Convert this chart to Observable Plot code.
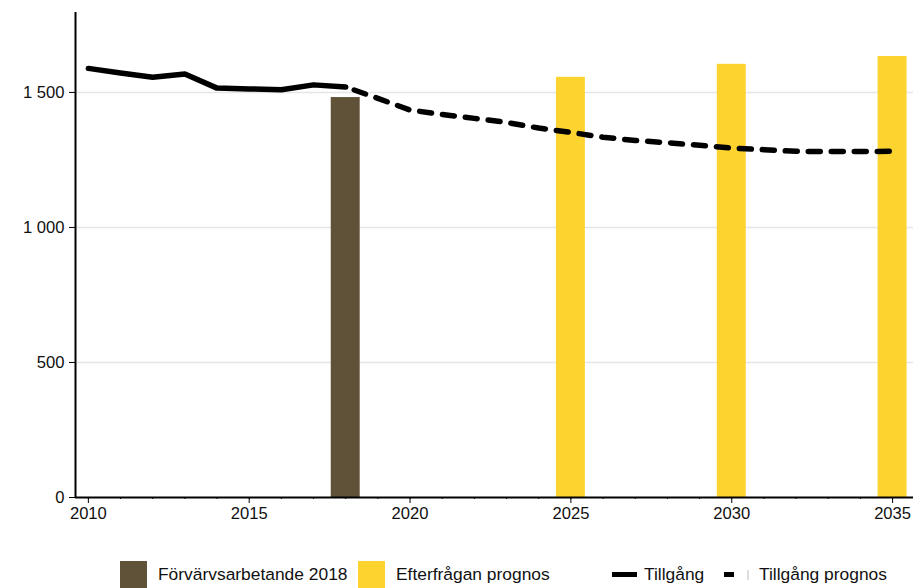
<!DOCTYPE html>
<html>
<head>
<meta charset="utf-8">
<script src="https://cdn.jsdelivr.net/npm/d3@7"></script>
<script src="https://cdn.jsdelivr.net/npm/@observablehq/plot@0.6"></script>
<style>
  html, body { margin: 0; padding: 0; background: #fff; }
  body { width: 913px; height: 588px; overflow: hidden; font-family: "Liberation Sans", Arial, sans-serif; }
  #wrap { position: relative; width: 913px; height: 588px; }
  #legend { position: absolute; left: 0; top: 561px; width: 913px; height: 27px; font-size: 17.4px; color: #111; }
  .item { position: absolute; top: 0; height: 27px; display: flex; align-items: center; }
  .sw { display: inline-block; }
</style>
</head>
<body>
<div id="wrap">
  <div id="chart"></div>
  <div id="legend"></div>
</div>
<script>
// ---- data ----
const historyYears  = [2010, 2011, 2012, 2013, 2014, 2015, 2016, 2017, 2018];
const historyValues = [1589, 1572, 1556, 1568, 1516, 1513, 1510, 1528, 1520];

const forecastYears  = [2018, 2019, 2020, 2021, 2022, 2023, 2024, 2025, 2026, 2027, 2028, 2029, 2030, 2031, 2032, 2033, 2034, 2035];
const forecastValues = [1520, 1478, 1435, 1418, 1404, 1389, 1368, 1352, 1334, 1322, 1314, 1304, 1294, 1288, 1282, 1281, 1281, 1282];

const employedYears  = [2018];
const employedValues = [1481];

const demandYears  = [2025, 2030, 2035];
const demandValues = [1556, 1604, 1633];

const yTicks = [0, 500, 1000, 1500];
const xTicks = [2010, 2015, 2020, 2025, 2030, 2035];
const xMinor = d3.range(2010, 2036);

const legendLabels = ["Förvärvsarbetande 2018", "Efterfrågan prognos", "Tillgång", "Tillgång prognos"];

// ---- tables ----
const history  = historyYears.map((y, i) => ({year: y, value: historyValues[i]}));
const forecast = forecastYears.map((y, i) => ({year: y, value: forecastValues[i]}));
const employed = employedYears.map((y, i) => ({year: y, value: employedValues[i]}));
const demand   = demandYears.map((y, i) => ({year: y, value: demandValues[i]}));

const BROWN = "#5f5238";
const YELLOW = "#fdd32f";
const half = 0.45;
const fmt = d3.formatLocale({decimal: ",", thousands: "\u00a0", grouping: [3]}).format(",");

const chart = Plot.plot({
  width: 913,
  height: 530,
  marginLeft: 75,
  marginRight: 0,
  marginTop: 12,
  marginBottom: 33,
  style: {fontFamily: "'Liberation Sans', Arial, sans-serif", fontSize: "16.6px", color: "#111", background: "#fff"},
  x: {domain: [2009.6, 2035.65]},
  y: {domain: [0, 1796]},
  marks: [
    Plot.ruleY(yTicks.filter(d => d > 0), {stroke: "#e5e5e5", strokeWidth: 1.5}),
    Plot.rectY(employed, {x1: d => d.year - half, x2: d => d.year + half, y: "value", fill: BROWN}),
    Plot.rectY(demand, {x1: d => d.year - half, x2: d => d.year + half, y: "value", fill: YELLOW}),
    Plot.line(forecast, {x: "year", y: "value", stroke: "#000", strokeWidth: 5.5, strokeDasharray: "12,11", strokeDashoffset: -9}),
    Plot.line(history, {x: "year", y: "value", stroke: "#000", strokeWidth: 5.5, strokeLinejoin: "round"}),
    Plot.ruleX([2009.6], {stroke: "#000", strokeWidth: 2}),
    Plot.ruleY([0], {stroke: "#000", strokeWidth: 2}),
    Plot.axisY({ticks: yTicks, tickFormat: fmt, tickSize: 6, tickPadding: 5, label: null, stroke: "#000"}),
    Plot.axisX({ticks: xMinor, tickFormat: () => "", tickSize: 2, label: null, stroke: "#000"}),
    Plot.axisX({ticks: xTicks, tickFormat: d => String(d), tickSize: 6, tickPadding: 4, label: null, stroke: "#000"})
  ]
});
document.getElementById("chart").appendChild(chart);

// ---- legend ----
const legend = document.getElementById("legend");
const items = [
  {left: 120, swatch: `<span class="sw" style="width:27px;height:27px;background:${BROWN}"></span>`, gap: 11, label: legendLabels[0]},
  {left: 358, swatch: `<span class="sw" style="width:27px;height:27px;background:${YELLOW}"></span>`, gap: 11, label: legendLabels[1]},
  {left: 612, swatch: `<span class="sw" style="width:25px;height:5px;background:#000"></span>`, gap: 7, label: legendLabels[2]},
  {left: 724, swatch: `<span class="sw" style="width:10px;height:5px;background:#000"></span><span class="sw" style="width:2px;height:10px;background:#ddd;margin-left:13px"></span>`, gap: 10, label: legendLabels[3]}
];
for (const it of items) {
  const el = document.createElement("div");
  el.className = "item";
  el.style.left = it.left + "px";
  el.innerHTML = it.swatch + `<span style="margin-left:${it.gap}px">${it.label}</span>`;
  legend.appendChild(el);
}
</script>
</body>
</html>
